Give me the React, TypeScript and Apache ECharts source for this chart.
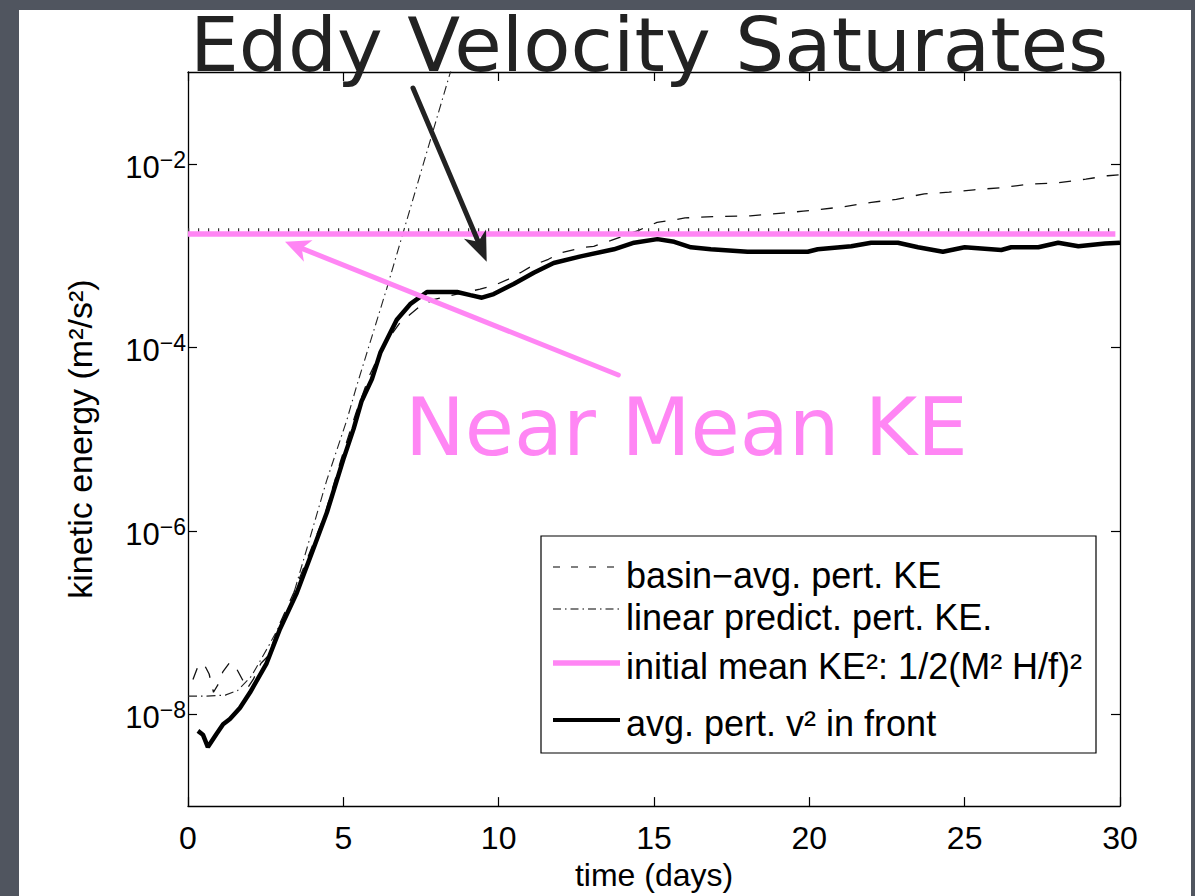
import React, { useEffect, useRef } from 'react';
import * as echarts from 'echarts';

// time (days) and kinetic energy (m^2/s^2)
const frontTime = [0.32, 0.48, 0.64, 0.9, 1.13, 1.35, 1.67, 2.0, 2.53, 2.96, 3.5, 4.03, 4.47, 5.0, 5.33, 5.59, 5.92, 6.19, 6.72, 7.15, 7.69, 8.2, 8.66, 9.09, 9.46, 9.84, 10.48, 11.13, 11.77, 12.64, 13.71, 14.36, 15.11, 15.65, 16.19, 16.83, 18.01, 19.95, 20.27, 21.35, 21.99, 22.85, 23.5, 24.3, 25.0, 26.18, 26.5, 27.37, 28.01, 28.66, 29.52, 30.0];
const frontKE = [6.6e-9, 6.0e-9, 4.4e-9, 6.0e-9, 7.8e-9, 8.9e-9, 1.17e-8, 1.74e-8, 3.6e-8, 8.5e-8, 2.1e-7, 6.3e-7, 1.58e-6, 6.0e-6, 1.29e-5, 2.6e-5, 4.5e-5, 8.7e-5, 2.0e-4, 2.95e-4, 4.0e-4, 4.0e-4, 4.0e-4, 3.7e-4, 3.47e-4, 3.8e-4, 4.9e-4, 6.5e-4, 8.3e-4, 9.8e-4, 1.17e-3, 1.38e-3, 1.51e-3, 1.41e-3, 1.23e-3, 1.17e-3, 1.1e-3, 1.1e-3, 1.17e-3, 1.26e-3, 1.38e-3, 1.38e-3, 1.23e-3, 1.1e-3, 1.23e-3, 1.15e-3, 1.23e-3, 1.23e-3, 1.38e-3, 1.26e-3, 1.35e-3, 1.38e-3];

const basinTime = [0.16, 0.3, 0.5, 0.68, 0.82, 1.0, 1.12, 1.35, 1.55, 1.75, 1.9, 2.1, 2.35, 2.6, 2.9, 3.4, 3.9, 4.4, 4.9, 5.4, 5.85, 6.3, 6.83, 7.47, 7.9, 8.2, 8.66, 9.4, 9.84, 10.3, 10.7, 11.1, 11.6, 12.0, 12.75, 13.06, 13.6, 14.47, 15.1, 15.5, 16.0, 17.0, 18.1, 18.55, 19.4, 19.8, 20.3, 21.1, 22.0, 22.8, 23.7, 24.5, 25.3, 26.2, 27.1, 28.0, 28.9, 29.6, 30.0];
const basinKE = [2.4e-8, 3.2e-8, 3.6e-8, 2.75e-8, 1.74e-8, 2.2e-8, 2.9e-8, 3.7e-8, 3.2e-8, 2.4e-8, 1.9e-8, 2.4e-8, 3.6e-8, 4.4e-8, 8.9e-8, 2.1e-7, 5.6e-7, 1.48e-6, 5.6e-6, 1.9e-5, 5.0e-5, 1.05e-4, 1.86e-4, 2.8e-4, 3.3e-4, 3.5e-4, 3.8e-4, 4.3e-4, 4.7e-4, 5.5e-4, 6.5e-4, 7.8e-4, 9.1e-4, 1.07e-3, 1.23e-3, 1.26e-3, 1.45e-3, 1.86e-3, 2.3e-3, 2.4e-3, 2.57e-3, 2.66e-3, 2.7e-3, 2.8e-3, 2.95e-3, 3.05e-3, 3.16e-3, 3.4e-3, 3.8e-3, 4.1e-3, 4.7e-3, 4.9e-3, 5.2e-3, 5.5e-3, 6.0e-3, 6.2e-3, 6.8e-3, 7.4e-3, 7.6e-3];

const linearTime = [0.0, 0.6, 1.2, 1.6, 2.04, 2.6, 3.28, 3.82, 4.46, 5.11, 5.43, 6.4, 7.69, 8.44, 8.7];
const linearKE = [1.58e-8, 1.58e-8, 1.62e-8, 1.82e-8, 2.6e-8, 5.6e-8, 1.5e-7, 6.3e-7, 3.5e-6, 1.6e-5, 3.8e-5, 4.4e-4, 1.35e-2, 9.8e-2, 1.9e-1];

const meanTime = [0, 29.85];
const meanKE = [1.72e-3, 1.72e-3];
const meanDotKE = [1.88e-3, 1.88e-3];
const meanDotTime = [0, 29.8];

const xTickValues = [0, 5, 10, 15, 20, 25, 30];
const yTickValues = [1e-8, 1e-6, 1e-4, 1e-2];

const legendLabels = [
  'basin−avg. pert. KE',
  'linear predict. pert. KE.',
  'initial mean KE²: 1/2(M² H/f)²',
  'avg. pert. v² in front',
];

const PINK = '#ff86f4';
const SANS = '"Liberation Sans", Arial, Helvetica, sans-serif';
const HAND = '"DejaVu Sans", sans-serif';

function pairs(t: number[], v: number[]) {
  return t.map((x, i) => [x, v[i]]);
}

function arrow(x1: number, y1: number, x2: number, y2: number, color: string, width: number, len: number, half: number) {
  const dx = x2 - x1;
  const dy = y2 - y1;
  const L = Math.sqrt(dx * dx + dy * dy);
  const ux = dx / L;
  const uy = dy / L;
  const px = -uy;
  const py = ux;
  const bx = x2 - ux * len;
  const by = y2 - uy * len;
  const nx = x2 - ux * len * 0.72;
  const ny = y2 - uy * len * 0.72;
  return [
    {
      type: 'line',
      shape: { x1, y1, x2: nx, y2: ny },
      style: { stroke: color, lineWidth: width, lineCap: 'round' },
      z: 100,
    },
    {
      type: 'polygon',
      shape: {
        points: [
          [x2, y2],
          [bx + px * half, by + py * half],
          [nx, ny],
          [bx - px * half, by - py * half],
        ],
      },
      style: { fill: color },
      z: 100,
    },
  ];
}

function yLabel(v: number) {
  const e = Math.round(Math.log10(v));
  if (e % 2 !== 0) return '';
  return `{b|10}{s|${e < 0 ? '−' : ''}${Math.abs(e)}}`;
}

export default function App() {
  const ref = useRef<HTMLDivElement>(null);
  useEffect(() => {
    if (!ref.current) return;
    const chart = echarts.init(ref.current, undefined, { renderer: 'svg' });

    const axisLine = { show: true, onZero: false, lineStyle: { color: '#000', width: 1.3 } };
    const tick = { show: true, inside: true, length: 9, lineStyle: { color: '#000', width: 1.2 } };

    const legendX0 = 553;
    const legendX1 = 620;
    const rowLineY = [567, 609, 663, 720];
    const rowTextY = [575, 617, 666, 723];

    const legendGraphics: any[] = [
      {
        type: 'rect',
        shape: { x: 541, y: 536, width: 555, height: 217 },
        style: { fill: '#fff', stroke: '#000', lineWidth: 1.2 },
        z: 50,
      },
      {
        type: 'line',
        shape: { x1: legendX0, y1: rowLineY[0], x2: legendX1, y2: rowLineY[0] },
        style: { stroke: '#000', lineWidth: 1.2, lineDash: [7, 11] },
        z: 51,
      },
      {
        type: 'line',
        shape: { x1: legendX0, y1: rowLineY[1], x2: legendX1, y2: rowLineY[1] },
        style: { stroke: '#000', lineWidth: 1.1, lineDash: [8, 4, 1.5, 4] },
        z: 51,
      },
      {
        type: 'line',
        shape: { x1: legendX0, y1: rowLineY[2], x2: legendX1, y2: rowLineY[2] },
        style: { stroke: PINK, lineWidth: 5.5 },
        z: 51,
      },
      {
        type: 'line',
        shape: { x1: legendX0, y1: rowLineY[3], x2: legendX1, y2: rowLineY[3] },
        style: { stroke: '#000', lineWidth: 4 },
        z: 51,
      },
      ...legendLabels.map((t, i) => ({
        type: 'text',
        x: 626,
        y: rowTextY[i],
        style: {
          text: t,
          fontSize: 36,
          fontFamily: SANS,
          fill: '#000',
          align: 'left',
          verticalAlign: 'middle',
        },
        z: 52,
      })),
    ];

    chart.setOption({
      animation: false,
      backgroundColor: 'transparent',
      grid: { left: 188, right: 75, top: 72, bottom: 89, containLabel: false },
      xAxis: [
        {
          type: 'value',
          min: 0,
          max: 30,
          interval: 5,
          position: 'bottom',
          axisLine,
          axisTick: tick,
          splitLine: { show: false },
          axisLabel: {
            fontSize: 32,
            fontFamily: SANS,
            color: '#000',
            margin: 16,
            customValues: xTickValues,
          },
          name: 'time (days)',
          nameLocation: 'middle',
          nameGap: 51,
          nameTextStyle: { fontSize: 32, fontFamily: SANS, color: '#000' },
        },
        {
          type: 'value',
          min: 0,
          max: 30,
          interval: 5,
          position: 'top',
          axisLine,
          axisTick: tick,
          splitLine: { show: false },
          axisLabel: { show: false },
        },
      ],
      yAxis: [
        {
          type: 'log',
          logBase: 10,
          min: 1e-9,
          max: 1e-1,
          position: 'left',
          axisLine,
          axisTick: { ...tick, customValues: yTickValues },
          splitLine: { show: false },
          axisLabel: {
            customValues: yTickValues,
            margin: 2,
            formatter: yLabel,
            rich: {
              b: { fontSize: 31, fontFamily: SANS, color: '#000', lineHeight: 31, padding: [12, 0, 5, 0] },
              s: { fontSize: 23, fontFamily: SANS, color: '#000', lineHeight: 23, verticalAlign: 'top' },
            },
          },
          name: 'kinetic energy (m²/s²)',
          nameLocation: 'middle',
          nameGap: 91,
          nameRotate: 90,
          nameTextStyle: { fontSize: 34, fontFamily: SANS, color: '#000' },
        },
        {
          type: 'log',
          logBase: 10,
          min: 1e-9,
          max: 1e-1,
          position: 'right',
          axisLine,
          axisTick: { ...tick, customValues: yTickValues },
          splitLine: { show: false },
          axisLabel: { show: false },
        },
      ],
      series: [
        {
          name: legendLabels[0],
          type: 'line',
          data: pairs(basinTime, basinKE),
          showSymbol: false,
          symbol: 'none',
          lineStyle: { color: '#111', width: 1.3, type: [12, 12] },
          z: 3,
          silent: true,
        },
        {
          name: legendLabels[1],
          type: 'line',
          data: pairs(linearTime, linearKE),
          showSymbol: false,
          symbol: 'none',
          lineStyle: { color: '#222', width: 1.1, type: [9, 4, 1.5, 4] },
          z: 3,
          silent: true,
        },
        {
          name: 'dotted',
          type: 'line',
          data: pairs(meanDotTime, meanDotKE),
          showSymbol: false,
          symbol: 'none',
          lineStyle: { color: '#333', width: 4, type: [1.2, 8.8] },
          z: 3,
          silent: true,
        },
        {
          name: legendLabels[2],
          type: 'line',
          data: pairs(meanTime, meanKE),
          showSymbol: false,
          symbol: 'none',
          lineStyle: { color: PINK, width: 5.5 },
          z: 4,
          silent: true,
        },
        {
          name: legendLabels[3],
          type: 'line',
          data: pairs(frontTime, frontKE),
          showSymbol: false,
          symbol: 'none',
          lineStyle: { color: '#000', width: 4.5 },
          z: 5,
          silent: true,
        },
      ],
      graphic: [
        {
          type: 'text',
          x: 190,
          y: 46,
          scaleX: 1.045,
          style: {
            text: 'Eddy Velocity Saturates',
            fontSize: 74,
            lineHeight: 60,
            fontFamily: HAND,
            fill: '#222',
            align: 'left',
            verticalAlign: 'middle',
          },
          z: 120,
        },
        {
          type: 'text',
          x: 405,
          y: 427,
          style: {
            text: 'Near Mean KE',
            fontSize: 80,
            fontFamily: HAND,
            fill: PINK,
            align: 'left',
            verticalAlign: 'middle',
          },
          z: 120,
        },
        ...arrow(413, 88, 486.7, 261.7, '#222', 5, 30, 12),
        ...arrow(618.3, 375, 285, 241.7, PINK, 5, 25, 11.5),
        ...legendGraphics,
      ],
    });

    return () => chart.dispose();
  }, []);

  return (
    <div
      style={{
        position: 'fixed',
        left: 0,
        top: 0,
        width: 1195,
        height: 896,
        background: '#50555f',
        overflow: 'hidden',
      }}
    >
      <div style={{ position: 'absolute', left: 19, top: 10, width: 1172, height: 886, background: '#fff' }} />
      <div ref={ref} style={{ position: 'absolute', left: 0, top: 0, width: 1195, height: 896 }} />
    </div>
  );
}
